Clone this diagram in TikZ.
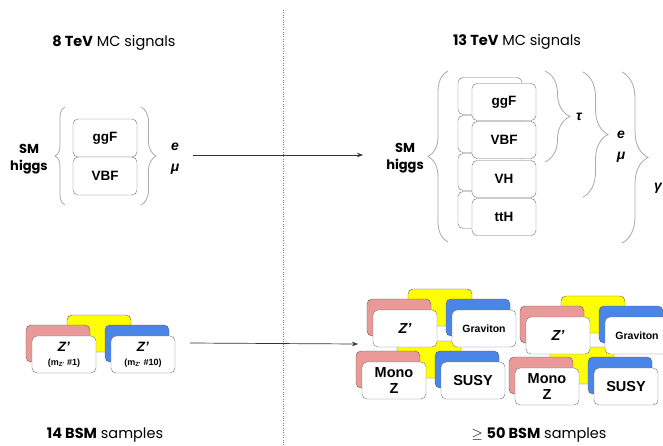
\documentclass[tikz,border=0pt]{standalone}
\usepackage{fontspec}
\usepackage{amsmath}
\setmainfont{Liberation Sans}
\newfontfamily\headfont{Poppins}
\usetikzlibrary{positioning, arrows.meta, calc, decorations.pathreplacing}

\definecolor{zpink}{HTML}{EA9999}
\definecolor{zyellow}{HTML}{FFFF00}
\definecolor{zblue}{HTML}{4A86E8}
\definecolor{boxline}{HTML}{707070}
\definecolor{braceline}{HTML}{A8A8A8}

\tikzset{
  smp/.style={draw=boxline, rounded corners=5pt, fill=white, minimum width=64pt,
    minimum height=37pt, inner sep=0pt, align=center, font=\bfseries\fontsize{13.5}{15}\selectfont},
  pinkbox/.style={smp, fill=zpink, draw=boxline!80!black},
  yellowbox/.style={smp, fill=zyellow, draw=boxline!80!black},
  bluebox/.style={smp, fill=zblue, draw=boxline!80!black},
  curly/.style={decorate, decoration={brace, amplitude=#1}, draw=braceline, line width=0.8pt},
  title/.style={font=\headfont\fontsize{14.5}{16}\selectfont},
  lbl/.style={align=center, font=\headfont\bfseries\fontsize{13}{17}\selectfont},
  lep/.style={align=center, font=\bfseries\itshape\fontsize{14}{21}\selectfont},
}

\begin{document}
\begin{tikzpicture}[x=1pt, y=-1pt]
  \useasboundingbox (0,0) rectangle (663,445);

  % divider
  \coordinate (divtop) at (283,10);
  \coordinate (divbot) at (283,445);
  \draw[dotted, gray] (divtop) -- (divbot);

  % titles
  \node[title] (t8) at (114,43) {\textbf{8 TeV} MC signals};
  \node[title] (t13) at (517,42) {\textbf{13 TeV} MC signals};
  \node[title] (b8) at (105,435) {\textbf{14 BSM} samples};
  \node[title] (b13) at (539,435) {$\geq$ \textbf{50 BSM} samples};

  % 8 TeV higgs
  \node[lbl] (higgs8) at (29,159) {SM\\higgs};
  \node[smp, minimum height=38pt] (ggf8) at (105,138) {ggF};
  \node[smp, minimum height=38pt] (vbf8) at (105,176) {VBF};
  \draw[curly=10] (65,205) -- (65,107);
  \draw[curly=15] (141,107) -- (141,205);
  \node[lep] (lep8) at (175,159) {e\\μ};

  % 13 TeV higgs
  \node[lbl] (higgs13) at (405,158) {SM\\higgs};
  \node[smp] (ggfb) at (490,96) {};
  \node[smp] (vbfb) at (490,134) {};
  \node[smp] (vhb) at (490,172) {};
  \node[smp] (tthb) at (490,210) {};
  \node[smp] (ggf13) at (504,102) {ggF};
  \node[smp] (vbf13) at (504,140) {VBF};
  \node[smp] (vh13) at (504,179) {VH};
  \node[smp] (tth13) at (504,217) {ttH};
  \draw[curly=20] (448,242) -- (448,71);
  \draw[curly=25] (545,71) -- (545,162);
  \draw[curly=25] (583,72) -- (583,197);
  \draw[curly=26] (622,72) -- (622,243);
  \node[lep] (tau13) at (579,117) {τ};
  \node[lep] (lep13) at (621,147) {e\\μ};
  \node[lep, anchor=west, inner sep=0pt] (gam13) at (654,188) {γ};

  \coordinate (a1s) at (193,155);
  \coordinate (a1e) at (363,155);
  \draw[-{Stealth[length=6pt]}, line width=0.7pt, black!80] (a1s) -- (a1e);

  % BSM, 8 TeV
  \begin{scope}[shift={(32,336)}, name prefix=g8-]
    \node[yellowbox] (y) at (67,-2.5) {};
    \node[pinkbox] (p) at (26,7.5) {};
    \node[bluebox] (b) at (105,7.5) {};
    \node[smp] (w1) at (32,18.5) {\textit{Z'}\\[-1pt]{\fontsize{9}{10}\selectfont(m\textsubscript{Z'} \#1)}};
    \node[smp] (w2) at (111,18.5) {\textit{Z'}\\[-1pt]{\fontsize{9}{10}\selectfont(m\textsubscript{Z'} \#10)}};
  \end{scope}

  % BSM, 13 TeV (lower rows first)
  \begin{scope}[shift={(362,362)}, name prefix=gb-]
    \node[yellowbox] (y) at (67,-2.5) {};
    \node[pinkbox] (p) at (26,7.5) {};
    \node[bluebox] (b) at (105,7.5) {};
    \node[smp, font=\bfseries\fontsize{14.5}{16}\selectfont] (w1) at (32,18.5) {Mono\\Z};
    \node[smp, font=\bfseries\fontsize{14.5}{16}\selectfont] (w2) at (111,18.5) {SUSY};
  \end{scope}
  \begin{scope}[shift={(515,368)}, name prefix=gd-]
    \node[yellowbox] (y) at (67,-2.5) {};
    \node[pinkbox] (p) at (26,7.5) {};
    \node[bluebox] (b) at (105,7.5) {};
    \node[smp, font=\bfseries\fontsize{14.5}{16}\selectfont] (w1) at (32,18.5) {Mono\\Z};
    \node[smp, font=\bfseries\fontsize{14.5}{16}\selectfont] (w2) at (111,18.5) {SUSY};
  \end{scope}
  \begin{scope}[shift={(373,310)}, name prefix=ga-]
    \node[yellowbox] (y) at (67,-2.5) {};
    \node[pinkbox] (p) at (26,7.5) {};
    \node[bluebox] (b) at (105,7.5) {};
    \node[smp, font=\bfseries\itshape\fontsize{14.5}{16}\selectfont] (w1) at (32,18.5) {Z'};
    \node[smp, font=\bfseries\fontsize{10.5}{12}\selectfont] (w2) at (111,18.5) {Graviton};
  \end{scope}
  \begin{scope}[shift={(526,317)}, name prefix=gc-]
    \node[yellowbox] (y) at (67,-2.5) {};
    \node[pinkbox] (p) at (26,7.5) {};
    \node[bluebox] (b) at (105,7.5) {};
    \node[smp, font=\bfseries\itshape\fontsize{14.5}{16}\selectfont] (w1) at (32,18.5) {Z'};
    \node[smp, font=\bfseries\fontsize{10.5}{12}\selectfont] (w2) at (111,18.5) {Graviton};
  \end{scope}

  \coordinate (a2s) at (190,343);
  \coordinate (a2e) at (358,344);
  \draw[-{Stealth[length=6pt]}, line width=0.7pt, black!80] (a2s) -- (a2e);
\end{tikzpicture}
\end{document}
